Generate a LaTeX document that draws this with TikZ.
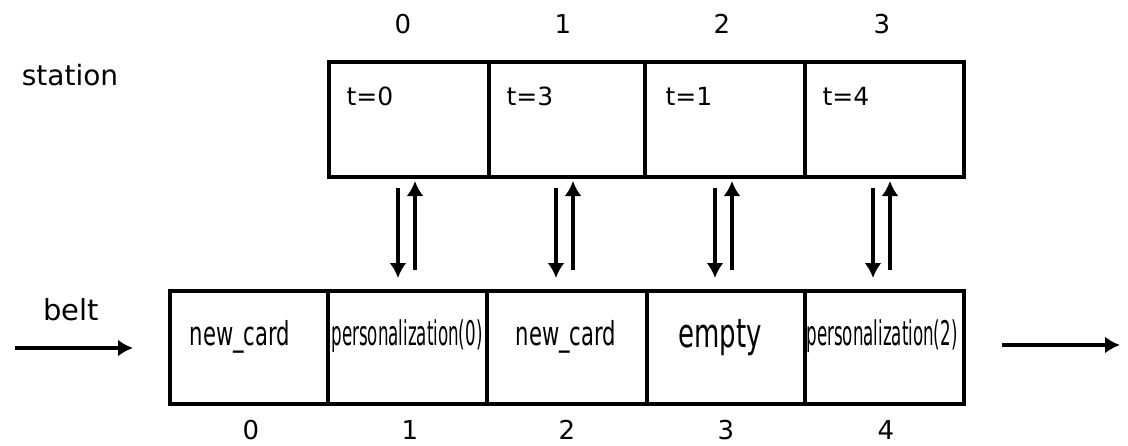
\documentclass[tikz,border=0pt]{standalone}
\usepackage{fontspec}
\setmainfont{DejaVu Sans}
\usepackage{graphicx}
\usetikzlibrary{calc,arrows.meta}
\begin{document}
\begin{tikzpicture}[x=1pt,y=-1pt,
  cell/.style={draw=black,line width=3.5pt,minimum height=115pt,inner sep=0pt,anchor=north west},
  num/.style={font=\fontsize{26}{28}\selectfont,inner sep=0pt,anchor=base},
  side/.style={font=\fontsize{29}{31}\selectfont,inner sep=0pt,anchor=base},
  tl/.style={font=\fontsize{25}{27}\selectfont,inner sep=0pt,anchor=base},
  bt/.style={inner sep=0pt,anchor=base},
  arr/.style={line width=4pt,-{Latex[length=15pt,width=17pt]}}
]
\useasboundingbox (0,0) rectangle (1128,445);
% station cells
\foreach \i/\x/\w in {0/327/160,1/487/156,2/643/160,3/803/159}{
  \node[cell,minimum width=\w pt] (s\i) at (\x,60) {};
}
% belt cells
\foreach \i/\x/\w in {0/168/158,1/326/159,2/485/160,3/645/158,4/803/159}{
  \node[cell,minimum width=\w pt,minimum height=113pt] (b\i) at (\x,289) {};
}
% station labels
\node[tl] (t0) at (370,105) {t=0};
\node[tl] (t1) at (530,105) {t=3};
\node[tl] (t2) at (689,105) {t=1};
\node[tl] (t3) at (846,105) {t=4};
% top numbers
\node[num] (n0) at (403,33) {0};
\node[num] (n1) at (563,33) {1};
\node[num] (n2) at (722,33) {2};
\node[num] (n3) at (882,33) {3};
% bottom numbers
\node[num] (m0) at (251,439) {0};
\node[num] (m1) at (410,439) {1};
\node[num] (m2) at (567,439) {2};
\node[num] (m3) at (726,439) {3};
\node[num] (m4) at (886,439) {4};
% belt texts
\node[bt] (c0) at (240,345) {\scalebox{0.64}[1]{\fontsize{33}{35}\selectfont new\_card}};
\node[bt] (c1) at (407,345) {\scalebox{0.49}[1]{\fontsize{34}{36}\selectfont personalization(0)}};
\node[bt] (c2) at (566,345) {\scalebox{0.64}[1]{\fontsize{33}{35}\selectfont new\_card}};
\node[bt] (c3) at (720,347) {\scalebox{0.65}[1]{\fontsize{40}{42}\selectfont empty}};
\node[bt] (c4) at (882,345) {\scalebox{0.49}[1]{\fontsize{34}{36}\selectfont personalization(2)}};
% side labels
\node[side,font=\fontsize{28}{30}\selectfont] (st) at (70,85) {station};
\node[side] (bl) at (71,320) {belt};
% arrows between station and belt
\foreach \i/\x in {0/398,1/556,2/715,3/873}{
  \coordinate (d\i a) at (\x,188);
  \coordinate (d\i b) at (\x,278);
  \coordinate (u\i a) at ($(\x,270)+(17,0)$);
  \coordinate (u\i b) at ($(\x,181)+(17,0)$);
  \draw[arr] (d\i a) -- (d\i b);
  \draw[arr] (u\i a) -- (u\i b);
}
% belt in/out arrows
\coordinate (inA) at (15,348);
\coordinate (inB) at (133,348);
\draw[arr] (inA) -- (inB);
\coordinate (outA) at (1002,345);
\coordinate (outB) at (1120,345);
\draw[arr] (outA) -- (outB);
\end{tikzpicture}
\end{document}
